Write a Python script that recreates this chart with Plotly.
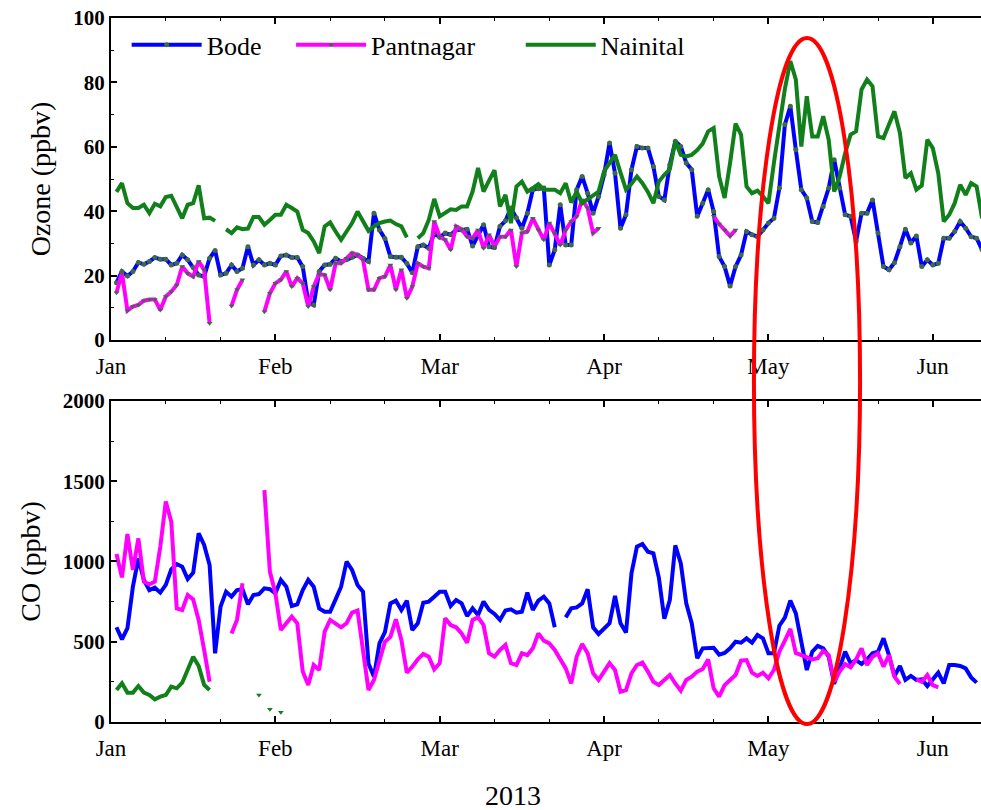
import plotly.graph_objects as go

# ---------------- data (day of year index, 1 = Jan 1 2013) ----------------
days_oz = list(range(1, 160))
days_co = list(range(1, 159))
month_ticks = [0, 30, 60, 90, 120, 150]
month_labels = ["Jan", "Feb", "Mar", "Apr", "May", "Jun"]
N = None

oz_bode = [17.8, 21.3, 19.9, 21.3, 24.1, 23.5, 24.4, 25.6, 25.1, 25.1,
           23.3, 23.8, 26.4, 24.9, 22.5, 20.2, 19.7, 25.4, 27.8, 20.2,
           20.7, 23.3, 21.3, 22.3, 29, 23.3, 24.9, 23.3, 23.8, 23.3,
           26.1, 26.4, 25.6, 25.6, 22.8, 11.9, 10.9, 21.3, 23.3, 23.5,
           25.4, 24.4, 24.9, 25.7, 26.4, 25.4, 24.4, 39.4, 34.2, 31.5,
           25.9, 25.7, 25.7, 23.8, 20.9, 29, 29.5, 28.5, 33.2, 31.9,
           33.2, 32.7, 34.2, 34.2, 34.4, 29.2, 32.7, 35.8, 29, 28.7,
           35.3, 37, 41, 38, 34.7, 39.4, 46.7, 47, 47.2, 23.3,
           28, 42, 29.5, 29.5, 46.7, 50.8, 45.6, 39.4, 44.6, 51.3,
           61.2, 51.8, 34.7, 38.9, 52.9, 60.1, 59.6, 59.6, 53.9, 44.6,
           43.5, 54.4, 61.7, 60.1, 55, 52.9, 38.4, 42.5, 46.7, 39.9,
           25.9, 22.8, 16.8, 22.8, 26.4, 33.7, 32.7, 32.1, 34.2, 36.3,
           37.8, 47.2, 66.9, 72.6, 59.1, 46.7, 44.1, 36.8, 36.5, 41.5,
           47.2, 56, 47.2, 38.9, 38.4, 30.6, 39.4, 39.4, 43.5, 33.2,
           22.8, 21.8, 24, 29, 34.4, 30.1, 32.3, 22.8, 24.9, 23.3,
           23.8, 31.6, 31.6, 33.7, 36.8, 34.7, 32.1, 31.6, 28]

oz_pantnagar = [14.7, 20.9, 9.1, 10.4, 10.9, 12.2, 12.6, 12.6, 9.3, 13.5,
                15, 17.1, 22.8, 20.7, 19.7, 24.4, 21.8, 5.2, N, N,
                N, 10.6, 15.6, 18.7, N, N, N, 8.8, 14.5, 17.6,
                18.7, 21.3, 16.6, 19.2, 17.6, 10.4, 16.6, 20.5, 20.2, 15.6,
                23.8, 23.8, 25.4, 27, 26.4, 24.9, 15.6, 15.6, 19.2, 19.7,
                23.3, 15.6, 21.8, 13, 16.6, 23.8, 22.8, 22.3, 36.8, 32.1,
                31.1, 28, 35.3, 34.4, 32.1, 31.6, 34.2, 28.5, 32.7, 29,
                32.1, 32.1, 34.2, 22.8, 33.2, 33.7, 37.8, 34.2, 31.1, 36.3,
                33.2, 29.5, 34.2, 36.8, 38.4, 43.5, 41, 33.2, 34.7, N,
                N, N, N, N, N, N, N, N, N, N,
                N, N, N, N, N, N, N, N, N, 38.4,
                36, 34.2, 32.3, 34.2, N, N, N, N, N, N,
                N, N, N, N, N, N, N, N, N, N,
                N, N, N, N, N, N, N, N, N, N,
                N, N, N, N, N, N, N, N, N, N,
                N, N, N, N, N, N, N, N, N]

oz_nainital = [46, 48.7, 42.5, 41, 41, 42, 39.4, 42.3, 41.5, 44.4,
               44.8, 41.5, 37.8, 42, 42.5, 48, 37.8, 38, 37, N,
               34.4, 33.2, 35, 34.4, 34.6, 38.2, 38.2, 35.8, 37.3, 38.9,
               38.9, 42, 41, 39.9, 34.2, 33.2, 30.6, 27, 35.3, 36.5,
               33.7, 31.1, 33.7, 36.3, 39.9, 36.8, 33.9, 35.3, 36.3, 36.8,
               37.1, 36, 35.3, 31.9, N, 31.6, 33.2, 37.3, 43.8, 38.4,
               39.4, 40.6, 40.4, 41.5, 41.5, 46.1, 53.4, 46.1, 49.5, 52.7,
               41.5, 45.1, 36.3, 47.7, 49.2, 46.1, 47.2, 48.4, 46.7, 46.7,
               46.7, 45.6, 48.7, 42.7, 46.1, 42.5, 43.8, 45, 46.1, 52.4,
               55, 57.5, 52, 46.7, 48.5, 50.8, 48.7, 46, 42.5, 49.2,
               51.3, 53, 61.7, 57.5, 57, 57.5, 59, 61, 64.8, 65.8,
               50.8, 44.1, 55, 67.2, 63.8, 47.7, 45.6, 46.4, 44.6, 42.5,
               55, 66, 78, 86.6, 80.9, 60.1, 75.7, 63.2, 63.2, 69.5,
               62.2, 46.1, 50.8, 58, 63.8, 64.8, 77.8, 80.9, 78.8, 63.2,
               62.7, 66.9, 71, 64.3, 50.3, 51.8, 46.7, 48, 62.2, 59.6,
               51.8, 36.8, 38.9, 42.5, 48.2, 45.1, 48.7, 47.7, 37.8]

co_bode = [590, 515, 584, 843, 1020, 885, 822, 837, 806, 854,
           951, 984, 968, 891, 930, 1175, 1103, 978, 428, 719,
           812, 781, 822, 827, 733, 791, 797, 833, 827, 802,
           885, 843, 723, 733, 822, 885, 843, 708, 687, 687,
           764, 843, 999, 947, 854, 812, 365, 282, 490, 560,
           739, 756, 698, 756, 573, 615, 743, 750, 780, 812,
           812, 723, 760, 739, 660, 708, 667, 750, 698, 673,
           636, 694, 702, 681, 687, 806, 698, 756, 781, 739,
           590, N, 652, 708, 714, 739, 827, 590, 548, 584,
           615, 785, 615, 557, 926, 1092, 1109, 1061, 1051, 900,
           643, 760, 1100, 989, 739, 615, 397, 459, 459, 462,
           420, 430, 459, 500, 494, 521, 494, 542, 521, 428,
           428, 600, 650, 756, 677, 511, 324, 438, 474, 459,
           407, 237, 334, 438, 366, 386, 361, 390, 428, 438,
           521, 417, 287, 349, 262, 287, 262, 266, 224, 266,
           307, 241, 355, 355, 349, 334, 278, 245]

co_pantnagar = [1047, 901, 1171, 947, 1144, 874, 858, 874, 1092, 1373,
                1248, 708, 698, 791, 764, 636, 449, 251, N, N,
                N, 552, 636, 864, N, N, N, 1445, 937, 802,
                573, 615, 656, 615, 314, 230, 355, 324, 563, 636,
                615, 590, 615, 681, 694, 450, 199, 262, 380, 500,
                530, 640, 511, 307, 345, 390, 424, 407, 328, 366,
                646, 604, 590, 552, 494, 636, 652, 604, 428, 407,
                449, 480, 366, 355, 428, 417, 459, 552, 507, 490,
                449, 386, 334, 241, 407, 486, 428, 303, 262, 314,
                366, 324, 189, 199, 303, 355, 370, 314, 251, 230,
                262, 293, 240, 195, 262, 282, 314, 330, 390, 210,
                158, 230, 262, 293, 382, 386, 307, 287, 307, 272,
                324, 438, 507, 580, 430, 417, 400, 390, 397, 444,
                417, 251, 314, 361, 341, 390, 459, 355, 407, 428,
                345, 417, 282, 237, N, N, 266, 251, 293, 230,
                216, N, N, N, N, N, N, N]

co_nainital = [199, 241, 183, 183, 224, 183, 168, 141, 158, 168,
               220, 210, 245, 324, 407, 349, 231, 199, N, N,
               N, N, N, N, N, N, 168, N, 79, N,
               60] + [N] * 127

# ---------------- styling ----------------
BLUE = "#0000ff"
MAGENTA = "#ff00ff"
GREEN = "#11801a"
MARK = "#3d6b45"
SERIF = "Liberation Serif, Times New Roman, serif"

fig = go.Figure()

# Ozone panel (each station gets its own legend box so spacing matches the original)
fig.add_trace(go.Scatter(x=days_oz, y=oz_bode, name="Bode", mode="lines+markers",
                         line=dict(color=BLUE, width=4),
                         marker=dict(color=MARK, size=5, symbol="circle"),
                         xaxis="x", yaxis="y", legend="legend"))
fig.add_trace(go.Scatter(x=days_oz, y=oz_pantnagar, name="Pantnagar", mode="lines+markers",
                         line=dict(color=MAGENTA, width=4),
                         marker=dict(color=MARK, size=5, symbol="triangle-down"),
                         xaxis="x", yaxis="y", legend="legend2"))
fig.add_trace(go.Scatter(x=days_oz, y=oz_nainital, name="Nainital", mode="lines",
                         line=dict(color=GREEN, width=4),
                         xaxis="x", yaxis="y", legend="legend3"))

# CO panel
fig.add_trace(go.Scatter(x=days_co, y=co_bode, name="Bode", mode="lines", showlegend=False,
                         line=dict(color=BLUE, width=4), xaxis="x2", yaxis="y2"))
fig.add_trace(go.Scatter(x=days_co, y=co_pantnagar, name="Pantnagar", mode="lines", showlegend=False,
                         line=dict(color=MAGENTA, width=4), xaxis="x2", yaxis="y2"))
fig.add_trace(go.Scatter(x=days_co, y=co_nainital, name="Nainital", mode="lines", showlegend=False,
                         line=dict(color=GREEN, width=4), xaxis="x2", yaxis="y2"))
# isolated Nainital CO samples (no neighbours) shown as markers
iso_x, iso_y = [], []
for i, v in enumerate(co_nainital):
    prev_v = co_nainital[i - 1] if i > 0 else None
    next_v = co_nainital[i + 1] if i + 1 < len(co_nainital) else None
    if v is not None and prev_v is None and next_v is None:
        iso_x.append(days_co[i])
        iso_y.append(v)
fig.add_trace(go.Scatter(x=iso_x, y=iso_y, mode="markers", showlegend=False,
                         marker=dict(color=GREEN, size=5, symbol="triangle-down"),
                         xaxis="x2", yaxis="y2"))

XR = [0, 158.8]
xcommon = dict(range=XR, tickmode="array", tickvals=month_ticks, ticktext=month_labels,
               ticks="inside", ticklen=6, tickwidth=1.5, tickcolor="black",
               showline=True, linewidth=2, linecolor="black", mirror="ticks",
               showgrid=False, zeroline=False, ticklabelstandoff=4,
               minor=dict(tickmode="linear", tick0=0, dtick=10, ticks="inside",
                          ticklen=3, tickwidth=1, tickcolor="black"),
               tickfont=dict(family=SERIF, size=23, color="black"))
ycommon = dict(ticks="inside", ticklen=6, tickwidth=1.5, tickcolor="black",
               showline=True, linewidth=2, linecolor="black", mirror=False,
               showgrid=False, zeroline=False,
               tickfont=dict(family=SERIF, size=21, color="black", weight="bold"))

leg_common = dict(orientation="h", xanchor="left", y=0.962, yanchor="middle",
                  font=dict(family=SERIF, size=26, color="black"),
                  bgcolor="rgba(0,0,0,0)", itemwidth=70)

fig.update_layout(
    width=981, height=810,
    margin=dict(l=111, r=0, t=18, b=88),
    paper_bgcolor="white", plot_bgcolor="white",
    xaxis=dict(domain=[0, 1], anchor="y", **xcommon),
    yaxis=dict(domain=[0.5426, 1], anchor="x", range=[0, 100], dtick=20,
               minor=dict(tickmode="linear", tick0=0, dtick=10, ticks="inside",
                          ticklen=3, tickwidth=1, tickcolor="black"),
               title=dict(text="Ozone (ppbv)", font=dict(family=SERIF, size=28, color="black"),
                          standoff=14),
               **ycommon),
    xaxis2=dict(domain=[0, 1], anchor="y2", **xcommon),
    yaxis2=dict(domain=[0, 0.456], anchor="x2", range=[0, 2000], dtick=500,
                minor=dict(tickmode="linear", tick0=0, dtick=250, ticks="inside",
                           ticklen=3, tickwidth=1, tickcolor="black"),
                title=dict(text="CO (ppbv)", font=dict(family=SERIF, size=28, color="black"),
                           standoff=14),
                **ycommon),
    legend=dict(x=0.018, **leg_common),
    legend2=dict(x=0.207, **leg_common),
    legend3=dict(x=0.471, **leg_common),
    showlegend=True,
    annotations=[dict(text="2013", xref="paper", yref="paper", x=0.462, y=-0.1037,
                      xanchor="center", yanchor="middle", showarrow=False,
                      font=dict(family=SERIF, size=28, color="black"))],
    shapes=[dict(type="circle", xref="paper", yref="paper",
                 x0=0.739, x1=0.861, y0=-0.003, y1=0.9716,
                 line=dict(color="red", width=4), layer="above")],
)

fig.write_html("out.html")
